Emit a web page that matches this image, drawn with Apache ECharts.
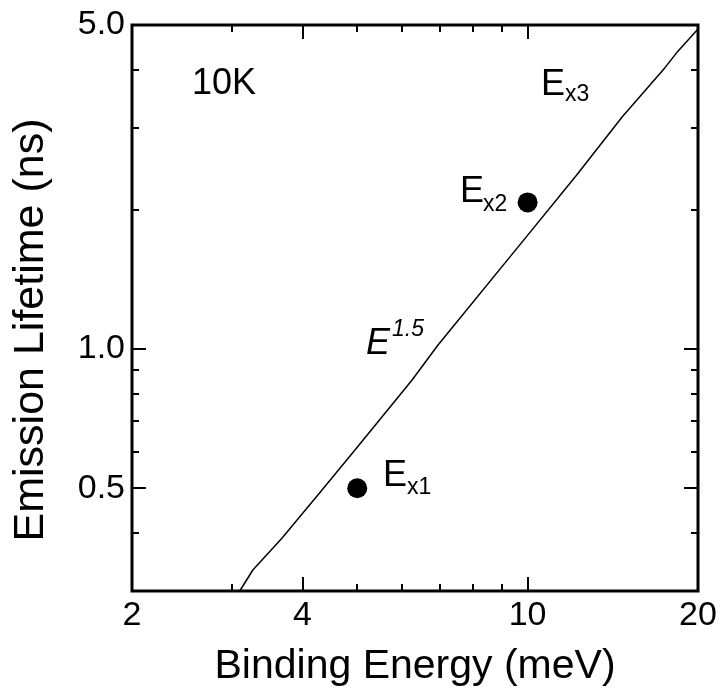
<!DOCTYPE html>
<html>
<head>
<meta charset="utf-8">
<script src="https://cdn.jsdelivr.net/npm/echarts@6/dist/echarts.min.js"></script>
<style>
  html, body { margin: 0; padding: 0; background: #fff; }
  #charts { width: 722px; height: 695px; }
</style>
</head>
<body>
<div id="charts"></div>
<script>
// axis ranges and ticks (log-log plot)
var xRange = [2, 20];
var yRange = [0.3, 5.0];
var xMajor = [2, 4, 10, 20];
var xMinor = [3, 5, 6, 7, 8, 9];
var yMajor = [0.5, 1.0, 5.0];
var yMinor = [0.4, 0.6, 0.7, 0.8, 0.9, 2, 3, 4];

// measured points Ex1, Ex2
var pointX = [5.0, 10.0];
var pointY = [0.5, 2.07];

// E^1.5 guide line
var fitX = [3.10, 3.27, 3.68, 4.30, 4.95, 6.25, 6.94, 9.93, 12.2, 14.7, 17.5, 18.4, 20];
var fitY = [0.30, 0.333, 0.39, 0.490, 0.604, 0.856, 1.018, 1.74, 2.37, 3.17, 4.05, 4.38, 4.90];

var lg = Math.log10;
var FONT = '"Liberation Sans", Arial, sans-serif';

var myChart = echarts.init(document.getElementById('charts'));

function makeAxis(pos, range, ticks, len, label, fmt) {
    var ax = {
        type: 'value',
        position: pos,
        min: lg(range[0]),
        max: lg(range[1]),
        axisLine: { show: false, onZero: false },
        splitLine: { show: false },
        axisTick: {
            inside: true,
            length: len,
            customValues: ticks.map(lg),
            lineStyle: { color: '#000', width: 2 }
        },
        axisLabel: { show: false }
    };
    if (label) {
        ax.axisLabel = {
            show: true,
            customValues: ticks.map(lg),
            formatter: fmt,
            fontSize: 34,
            color: '#000',
            fontFamily: FONT,
            margin: pos === 'bottom' ? 8 : 7
        };
    }
    return ax;
}

var xFmt = function (v) { return String(Math.round(Math.pow(10, v))); };
var yFmt = function (v) { return Math.pow(10, v).toFixed(1); };

var xAxes = [
    makeAxis('bottom', xRange, xMajor, 14, true, xFmt),
    makeAxis('bottom', xRange, xMinor, 7, false),
    makeAxis('top', xRange, xMajor, 14, false),
    makeAxis('top', xRange, xMinor, 7, false)
];
xAxes[0].name = 'Binding Energy (meV)';
xAxes[0].nameLocation = 'middle';
xAxes[0].nameGap = 55;
xAxes[0].nameMoveOverlap = false;
xAxes[0].nameTextStyle = { fontSize: 41, color: '#000', fontFamily: FONT };

var yAxes = [
    makeAxis('left', yRange, yMajor, 14, true, yFmt),
    makeAxis('left', yRange, yMinor, 7, false),
    makeAxis('right', yRange, yMajor, 14, false),
    makeAxis('right', yRange, yMinor, 7, false)
];
yAxes[0].name = 'Emission Lifetime (ns)';
yAxes[0].nameLocation = 'middle';
yAxes[0].nameGap = 79;
yAxes[0].nameMoveOverlap = false;
yAxes[0].nameTextStyle = { fontSize: 43, color: '#000', fontFamily: FONT, padding: [0, 44, 0, 0] };

function txt(s, x, y, size, italic) {
    return {
        type: 'text',
        x: x,
        y: y,
        silent: true,
        style: {
            text: s,
            font: (italic ? 'italic ' : '') + size + 'px ' + FONT,
            fill: '#000',
            align: 'left',
            verticalAlign: 'middle'
        }
    };
}

var option = {
    animation: false,
    backgroundColor: '#fff',
    grid: {
        left: 132, right: 24, top: 25, bottom: 104,
        show: true,
        borderColor: '#000',
        borderWidth: 3,
        outerBoundsMode: 'none',
        containLabel: false
    },
    xAxis: xAxes,
    yAxis: yAxes,
    series: [
        {
            type: 'line',
            data: fitX.map(function (x, i) { return [lg(x), lg(fitY[i])]; }),
            showSymbol: false,
            clip: true,
            silent: true,
            lineStyle: { color: '#000', width: 1.5 }
        },
        {
            type: 'scatter',
            data: pointX.map(function (x, i) { return [lg(x), lg(pointY[i])]; }),
            symbolSize: 20,
            silent: true,
            itemStyle: { color: '#000', opacity: 1 }
        }
    ],
    graphic: [
        txt('10K', 192, 84, 36),
        txt('E', 541, 85, 36), txt('x3', 565, 95, 23),
        txt('E', 460, 192, 36), txt('x2', 483, 205, 23),
        txt('E', 383, 476, 36), txt('x1', 407, 488, 23),
        txt('E', 366, 344, 36, true), txt('1.5', 392, 330, 23, true)
    ]
};

myChart.setOption(option);
</script>
</body>
</html>
